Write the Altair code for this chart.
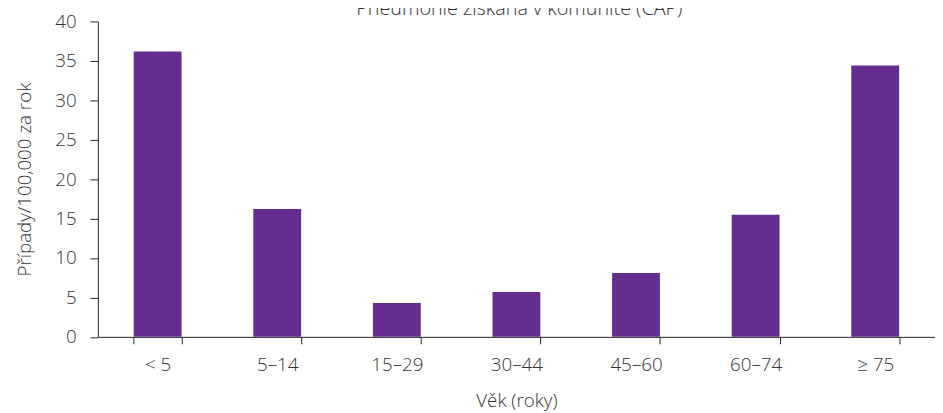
import altair as alt
import pandas as pd

categories = ["< 5", "5–14", "15–29", "30–44", "45–60", "60–74", "≥ 75"]
values = [36.2, 16.2, 4.3, 5.7, 8.1, 15.5, 34.4]
y_ticks = [0, 5, 10, 15, 20, 25, 30, 35, 40]
chart_title = ["Pneumonie získaná v komunitě (CAP)"]

W = 848
H = 319.5

df = pd.DataFrame({"vek": categories, "pripady": values})
tdf = pd.DataFrame({"t": chart_title})

FONT = "Open Sans"
TXT = "#333333"

bars = alt.Chart(df).mark_bar(color="#652D90").encode(
    x=alt.X("vek:N", sort=categories, title="Věk (roky)",
            scale=alt.Scale(paddingInner=0.6, paddingOuter=0.3),
            axis=alt.Axis(labelAngle=0, tickBand="extent", tickSize=7,
                          labelPadding=12, titlePadding=18)),
    y=alt.Y("pripady:Q", title="Případy/100,000 za rok",
            scale=alt.Scale(domain=[0, 40], nice=False),
            axis=alt.Axis(values=y_ticks, grid=False, tickSize=8,
                          labelPadding=14, titlePadding=21)),
)

title = alt.Chart(tdf).mark_text(
    font=FONT, fontSize=20, fontWeight=300, color=TXT,
    align="center", baseline="alphabetic", clip=False,
).encode(text="t:N", x=alt.value(W / 2 + 3), y=alt.value(-7))

chart = alt.layer(bars, title).properties(
    width=W,
    height=H,
    autosize=alt.AutoSizeParams(type="none"),
    padding={"left": 91, "top": 11, "right": 0, "bottom": 74},
).configure_view(stroke=None).configure_axis(
    labelFont=FONT, titleFont=FONT, labelFontSize=19, titleFontSize=19,
    labelFontWeight=300, titleFontWeight=300,
    labelColor=TXT, titleColor=TXT, domainColor="#222222", tickColor="#222222",
    domainWidth=1, tickWidth=1,
)

chart.save("out.html", embed_options={"renderer": "svg", "actions": False})
